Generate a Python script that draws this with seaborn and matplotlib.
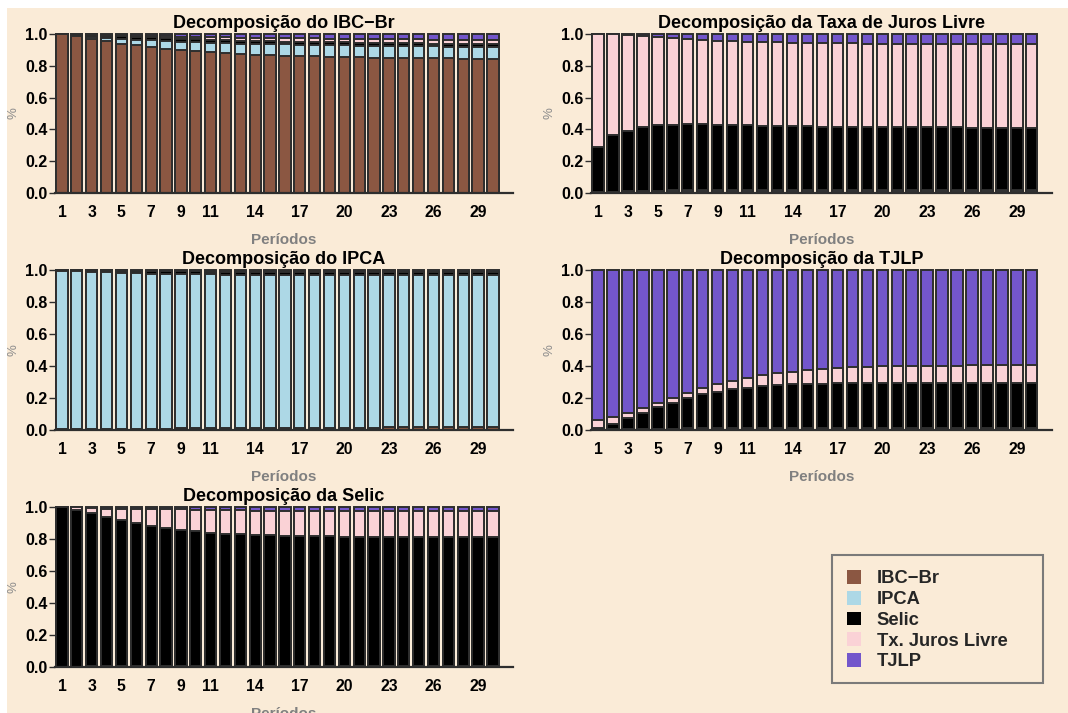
import numpy as np
import pandas as pd
import matplotlib
matplotlib.use("Agg")
import matplotlib.pyplot as plt
import seaborn as sns
from matplotlib.patches import Rectangle, Patch

# ---------------- data ----------------
periods = list(range(1, 31))
tick_periods = [1, 3, 5, 7, 9, 11, 14, 17, 20, 23, 26, 29]
variables = ["IBC\u2212Br", "IPCA", "Selic", "Tx. Juros Livre", "TJLP"]
colors = ["#8B5742", "#ADD8E6", "#000000", "#FAD2D6", "#7356CB"]
titles = ["Decomposição do IBC\u2212Br", "Decomposição da Taxa de Juros Livre",
          "Decomposição do IPCA", "Decomposição da TJLP", "Decomposição da Selic"]

# Decomposição do IBC-Br
ibc_ibc = [1.000, 0.985, 0.970, 0.955, 0.940, 0.928, 0.918, 0.907, 0.898, 0.890, 0.884, 0.878, 0.873, 0.869, 0.866,
           0.863, 0.861, 0.859, 0.857, 0.855, 0.853, 0.851, 0.850, 0.849, 0.848, 0.847, 0.846, 0.845, 0.844, 0.843]
ibc_ipca = [0.000, 0.003, 0.010, 0.018, 0.027, 0.035, 0.042, 0.048, 0.053, 0.058, 0.062, 0.065, 0.067, 0.069, 0.070,
            0.071, 0.072, 0.073, 0.073, 0.074, 0.074, 0.075, 0.075, 0.075, 0.075, 0.075, 0.075, 0.075, 0.075, 0.075]
ibc_selic = [0.000, 0.010, 0.015, 0.017, 0.018, 0.018, 0.018, 0.018, 0.018, 0.018, 0.018, 0.018, 0.018, 0.018, 0.018,
             0.018, 0.018, 0.018, 0.018, 0.018, 0.018, 0.018, 0.018, 0.018, 0.018, 0.018, 0.018, 0.018, 0.018, 0.018]
ibc_jl = [0.000, 0.001, 0.003, 0.005, 0.007, 0.009, 0.010, 0.012, 0.013, 0.015, 0.016, 0.017, 0.018, 0.019, 0.020,
          0.021, 0.021, 0.022, 0.022, 0.023, 0.024, 0.024, 0.024, 0.025, 0.025, 0.025, 0.026, 0.026, 0.026, 0.027]
ibc_tjlp = [0.000, 0.001, 0.002, 0.005, 0.008, 0.010, 0.012, 0.015, 0.018, 0.019, 0.020, 0.022, 0.024, 0.025, 0.026,
            0.027, 0.028, 0.028, 0.030, 0.030, 0.031, 0.032, 0.033, 0.033, 0.034, 0.035, 0.035, 0.036, 0.037, 0.037]

# Decomposição da Taxa de Juros Livre
jl_ibc = [0.005, 0.005, 0.005, 0.005, 0.005, 0.005, 0.005, 0.005, 0.005, 0.005, 0.005, 0.005, 0.005, 0.005, 0.005,
          0.005, 0.005, 0.005, 0.005, 0.005, 0.005, 0.005, 0.005, 0.005, 0.005, 0.005, 0.005, 0.005, 0.005, 0.005]
jl_ipca = [0.002, 0.004, 0.007, 0.009, 0.010, 0.011, 0.012, 0.012, 0.013, 0.013, 0.013, 0.014, 0.014, 0.014, 0.014,
           0.014, 0.014, 0.014, 0.014, 0.014, 0.014, 0.014, 0.014, 0.014, 0.014, 0.014, 0.014, 0.014, 0.014, 0.014]
jl_selic = [0.282, 0.356, 0.380, 0.401, 0.410, 0.414, 0.415, 0.415, 0.412, 0.410, 0.408, 0.405, 0.403, 0.401, 0.400,
            0.399, 0.398, 0.397, 0.396, 0.395, 0.395, 0.394, 0.394, 0.393, 0.393, 0.392, 0.392, 0.391, 0.391, 0.391]
jl_jl = [0.711, 0.632, 0.601, 0.573, 0.557, 0.545, 0.536, 0.531, 0.529, 0.527, 0.526, 0.526, 0.526, 0.526, 0.525,
         0.525, 0.525, 0.525, 0.525, 0.526, 0.525, 0.526, 0.525, 0.526, 0.526, 0.526, 0.526, 0.527, 0.527, 0.527]
jl_tjlp = [0.000, 0.003, 0.007, 0.012, 0.018, 0.025, 0.032, 0.037, 0.041, 0.045, 0.048, 0.050, 0.052, 0.054, 0.056,
           0.057, 0.058, 0.059, 0.060, 0.060, 0.061, 0.061, 0.062, 0.062, 0.062, 0.063, 0.063, 0.063, 0.063, 0.063]

# Decomposição do IPCA
ipca_ibc = [0.008, 0.008, 0.008, 0.008, 0.008, 0.009, 0.009, 0.009, 0.010, 0.010, 0.010, 0.011, 0.011, 0.012, 0.012,
            0.013, 0.013, 0.014, 0.014, 0.015, 0.015, 0.015, 0.016, 0.016, 0.016, 0.017, 0.017, 0.017, 0.018, 0.018]
ipca_ipca = [0.987, 0.984, 0.980, 0.977, 0.974, 0.971, 0.969, 0.967, 0.964, 0.963, 0.962, 0.960, 0.959, 0.958, 0.957,
             0.956, 0.955, 0.954, 0.954, 0.952, 0.952, 0.952, 0.951, 0.950, 0.950, 0.949, 0.949, 0.949, 0.948, 0.948]
ipca_selic = [0.004, 0.006, 0.009, 0.011, 0.013, 0.014, 0.015, 0.016, 0.017, 0.018, 0.018, 0.019, 0.019, 0.019, 0.020,
              0.020, 0.020, 0.020, 0.020, 0.021, 0.021, 0.021, 0.021, 0.021, 0.021, 0.021, 0.021, 0.021, 0.021, 0.021]
ipca_jl = [0.000, 0.001, 0.001, 0.001, 0.002, 0.002, 0.002, 0.002, 0.003, 0.003, 0.003, 0.003, 0.003, 0.003, 0.003,
           0.003, 0.003, 0.003, 0.003, 0.003, 0.003, 0.003, 0.003, 0.003, 0.003, 0.003, 0.003, 0.003, 0.003, 0.003]
ipca_tjlp = [0.001, 0.001, 0.002, 0.003, 0.003, 0.004, 0.005, 0.006, 0.006, 0.006, 0.007, 0.007, 0.008, 0.008, 0.008,
             0.008, 0.009, 0.009, 0.009, 0.009, 0.009, 0.009, 0.009, 0.010, 0.010, 0.010, 0.010, 0.010, 0.010, 0.010]

# Decomposição da TJLP
tjlp_ibc = [0.003, 0.004, 0.004, 0.004, 0.004, 0.004, 0.004, 0.004, 0.004, 0.004, 0.004, 0.004, 0.004, 0.004, 0.004,
            0.004, 0.004, 0.004, 0.004, 0.004, 0.004, 0.004, 0.004, 0.004, 0.004, 0.004, 0.004, 0.004, 0.004, 0.004]
tjlp_ipca = [0.000, 0.001, 0.002, 0.003, 0.004, 0.005, 0.006, 0.007, 0.008, 0.008, 0.009, 0.009, 0.010, 0.010, 0.010,
             0.010, 0.010, 0.010, 0.010, 0.010, 0.010, 0.010, 0.010, 0.010, 0.010, 0.010, 0.010, 0.010, 0.010, 0.010]
tjlp_selic = [0.009, 0.035, 0.067, 0.101, 0.134, 0.161, 0.188, 0.212, 0.228, 0.242, 0.252, 0.262, 0.267, 0.271, 0.274,
              0.276, 0.277, 0.278, 0.278, 0.279, 0.279, 0.279, 0.280, 0.280, 0.280, 0.280, 0.280, 0.280, 0.280, 0.280]
tjlp_jl = [0.050, 0.043, 0.035, 0.027, 0.025, 0.028, 0.031, 0.037, 0.045, 0.052, 0.060, 0.067, 0.073, 0.080, 0.086,
           0.091, 0.096, 0.100, 0.104, 0.105, 0.107, 0.108, 0.108, 0.109, 0.109, 0.110, 0.110, 0.110, 0.111, 0.111]
tjlp_tjlp = [0.938, 0.917, 0.892, 0.865, 0.833, 0.802, 0.771, 0.740, 0.715, 0.694, 0.675, 0.658, 0.646, 0.635, 0.626,
             0.619, 0.613, 0.608, 0.604, 0.602, 0.600, 0.599, 0.598, 0.597, 0.597, 0.596, 0.596, 0.596, 0.595, 0.595]

# Decomposição da Selic
selic_ibc = [0.000, 0.002, 0.003, 0.004, 0.004, 0.004, 0.004, 0.004, 0.004, 0.004, 0.004, 0.004, 0.004, 0.004, 0.004,
             0.004, 0.004, 0.004, 0.004, 0.004, 0.004, 0.004, 0.004, 0.004, 0.004, 0.004, 0.004, 0.004, 0.004, 0.004]
selic_ipca = [0.000, 0.001, 0.002, 0.002, 0.003, 0.003, 0.003, 0.003, 0.003, 0.004, 0.004, 0.004, 0.004, 0.004, 0.004,
              0.004, 0.004, 0.004, 0.004, 0.004, 0.004, 0.004, 0.004, 0.004, 0.004, 0.004, 0.004, 0.004, 0.004, 0.004]
selic_selic = [1.000, 0.980, 0.957, 0.934, 0.913, 0.892, 0.875, 0.860, 0.850, 0.840, 0.832, 0.826, 0.822, 0.819, 0.815,
               0.813, 0.811, 0.809, 0.808, 0.807, 0.806, 0.805, 0.805, 0.804, 0.804, 0.804, 0.803, 0.803, 0.803, 0.803]
selic_jl = [0.000, 0.015, 0.030, 0.050, 0.070, 0.090, 0.106, 0.120, 0.128, 0.135, 0.141, 0.146, 0.149, 0.151, 0.154,
            0.156, 0.157, 0.159, 0.160, 0.160, 0.161, 0.162, 0.162, 0.163, 0.163, 0.163, 0.164, 0.164, 0.164, 0.164]
selic_tjlp = [0.000, 0.002, 0.008, 0.010, 0.010, 0.011, 0.012, 0.013, 0.015, 0.017, 0.019, 0.020, 0.021, 0.022, 0.023,
              0.023, 0.024, 0.024, 0.024, 0.025, 0.025, 0.025, 0.025, 0.025, 0.025, 0.025, 0.025, 0.025, 0.025, 0.025]

panels = [
    [ibc_ibc, ibc_ipca, ibc_selic, ibc_jl, ibc_tjlp],
    [jl_ibc, jl_ipca, jl_selic, jl_jl, jl_tjlp],
    [ipca_ibc, ipca_ipca, ipca_selic, ipca_jl, ipca_tjlp],
    [tjlp_ibc, tjlp_ipca, tjlp_selic, tjlp_jl, tjlp_tjlp],
    [selic_ibc, selic_ipca, selic_selic, selic_jl, selic_tjlp],
]

# ---------------- style ----------------
sns.set_theme(style="white")
plt.rcParams['font.family'] = ['Liberation Sans', 'DejaVu Sans']
plt.rcParams['font.weight'] = 'bold'

W, H = 1068, 713
BG = "#FAEBD7"
EDGE = "#2E2E2E"

fig = plt.figure(figsize=(W / 100, H / 100), dpi=100, facecolor="white")
fig.patches.append(Rectangle((7 / W, 0), 1 - 7 / W, (H - 8) / H, transform=fig.transFigure,
                             facecolor=BG, edgecolor="none", zorder=-10))

# pixel boxes: left, top, right, bottom
boxes = [(55, 34, 513, 193), (591, 34, 1052, 193),
         (55, 270, 513, 430), (591, 270, 1052, 430),
         (55, 507, 513, 667)]

for shares, title, (l, t, r, b) in zip(panels, titles, boxes):
    ax = fig.add_axes([l / W, 1 - b / H, (r - l) / W, (b - t) / H])
    ax.set_facecolor("none")
    df = pd.DataFrame(dict(zip(variables, shares)))
    df["Período"] = periods
    cum = df[variables].cumsum(axis=1)
    for var, col in reversed(list(zip(variables, colors))):
        sns.barplot(x=df["Período"], y=cum[var], order=periods, color=col, saturation=1,
                    width=0.76, edgecolor=EDGE, linewidth=1.4, errorbar=None, ax=ax)
    for p in ax.patches:
        p.set_clip_on(False)
    ax.set_xlim(-0.47, 30.35)
    ax.set_ylim(0, 1.0)
    ax.set_yticks([0, 0.2, 0.4, 0.6, 0.8, 1.0])
    ax.set_yticklabels(["0.0", "0.2", "0.4", "0.6", "0.8", "1.0"], fontsize=11.5, fontweight="bold", color="black")
    ax.set_xticks([p - 1 for p in tick_periods])
    ax.set_xticklabels([str(p) for p in tick_periods], fontsize=11.3, fontweight="bold", color="black")
    ax.tick_params(axis="y", length=4, width=1, color=EDGE, pad=1.5, left=True)
    ax.tick_params(axis="x", length=0, pad=8.5)
    for s in ["top", "right", "left"]:
        ax.spines[s].set_visible(False)
    ax.spines["bottom"].set_color(EDGE)
    ax.spines["bottom"].set_linewidth(1.6)
    ax.set_xlabel("Períodos", fontsize=11, fontweight="bold", color="#808080", labelpad=9.5)
    ax.set_ylabel("%", fontsize=9.5, color="#8c8c8c", labelpad=4)
    ax.set_title(title, fontsize=13, fontweight="bold", color="black", pad=4)

# legend
fig.patches.append(Rectangle((832 / W, 1 - 683 / H), (1043 - 832) / W, (683 - 555) / H,
                             transform=fig.transFigure, facecolor=BG, edgecolor="#7a7a7a",
                             linewidth=1.5, zorder=1))
handles = [Patch(facecolor=c, edgecolor="none") for c in colors]
leg = fig.legend(handles, variables, loc="upper left", bbox_to_anchor=(847 / W, 1 - 570 / H),
                 frameon=False, prop={"weight": "bold", "size": 13.2},
                 handlelength=0.78, handleheight=0.78, handletextpad=0.85, labelspacing=0.19,
                 borderpad=0.0, borderaxespad=0.0)

fig.savefig("out.png", dpi=100, facecolor="white")
